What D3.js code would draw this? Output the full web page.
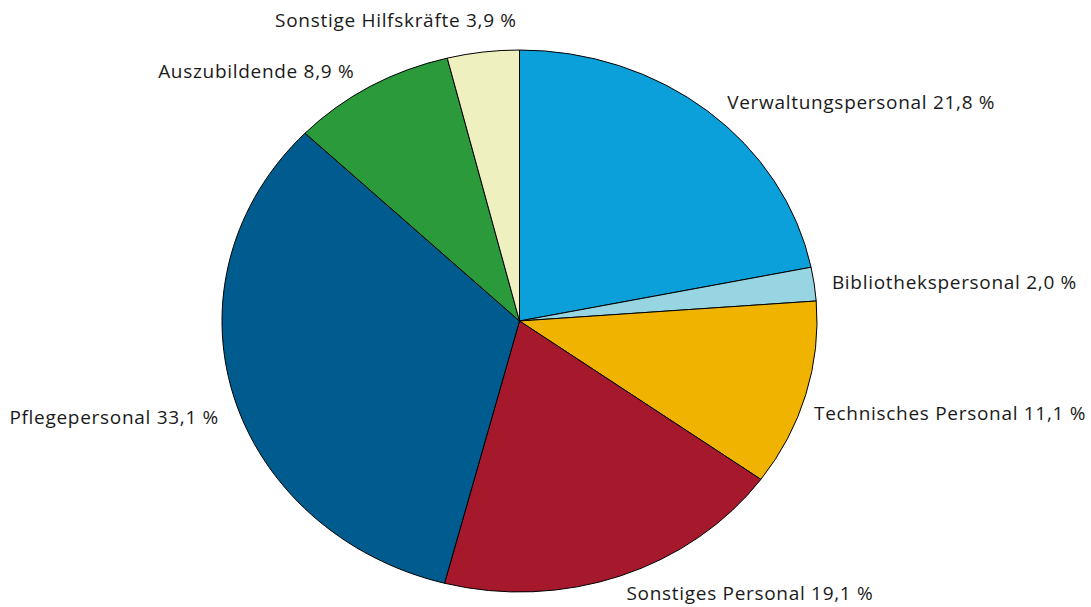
<!DOCTYPE html>
<html>
<head>
<meta charset="utf-8">
<script src="https://cdn.jsdelivr.net/npm/d3@7"></script>
<style>
  body { margin: 0; background: #fff; }
  svg text { font-family: "Open Sans", "Noto Sans", sans-serif; font-size: 19px; letter-spacing: 0.7px; fill: #1a1a1a; }
</style>
</head>
<body>
<div id="chart"></div>
<script>
// chart data
const categories = [
    "Verwaltungspersonal",
    "Bibliothekspersonal",
    "Technisches Personal",
    "Sonstiges Personal",
    "Pflegepersonal",
    "Auszubildende",
    "Sonstige Hilfskräfte"
];
const shares = [21.8, 2.0, 11.1, 19.1, 33.1, 8.9, 3.9];
const colors = ["#0ba0d9", "#97d5e2", "#f0b400", "#a6192d", "#005b8e", "#2a9a3b", "#eef0c0"];

const width = 1091, height = 607;
const cx = 519.5, cy = 321, rx = 297.5, ry = 271;

// small label nudges so they sit like the original layout
const labelNudge = {
    "Verwaltungspersonal": [8, 4],
    "Bibliothekspersonal": [0, 1],
    "Technisches Personal": [-9, 14],
    "Sonstiges Personal": [0, 2],
    "Pflegepersonal": [3, 18],
    "Auszubildende": [-7, -1],
    "Sonstige Hilfskräfte": [-85, -16]
};

const data = categories.map((c, i) => ({ name: c, value: shares[i], color: colors[i] }));

const svg = d3.select("#chart").append("svg")
    .attr("width", width)
    .attr("height", height);

const pie = d3.pie().sort(null).value(d => d.value);
const arcs = pie(data);

const arc = d3.arc().innerRadius(0).outerRadius(ry);

// pie is an ellipse: stretch horizontally
const pieG = svg.append("g")
    .attr("transform", `translate(${cx},${cy}) scale(${rx / ry},1)`);

pieG.selectAll("path")
    .data(arcs)
    .enter()
    .append("path")
    .attr("d", arc)
    .attr("fill", d => d.data.color)
    .attr("stroke", "#000")
    .attr("stroke-width", 1)
    .attr("vector-effect", "non-scaling-stroke");

const fmt = v => d3.format(".1f")(v).replace(".", ",") + " %";

// labels
const k = 1.06;
svg.append("g").selectAll("text")
    .data(arcs)
    .enter()
    .append("text")
    .each(function(d) {
        const mid = (d.startAngle + d.endAngle) / 2;
        const s = Math.sin(mid), c = Math.cos(mid);
        const nudge = labelNudge[d.data.name] || [0, 0];
        const x = cx + rx * k * s + nudge[0];
        const y = cy - ry * k * c + nudge[1];
        const anchor = s > 0.3 ? "start" : (s < -0.3 ? "end" : "middle");
        d3.select(this)
            .attr("x", x)
            .attr("y", y)
            .attr("dy", "0.35em")
            .attr("text-anchor", anchor)
            .text(`${d.data.name} ${fmt(d.data.value)}`);
    });
</script>
</body>
</html>
